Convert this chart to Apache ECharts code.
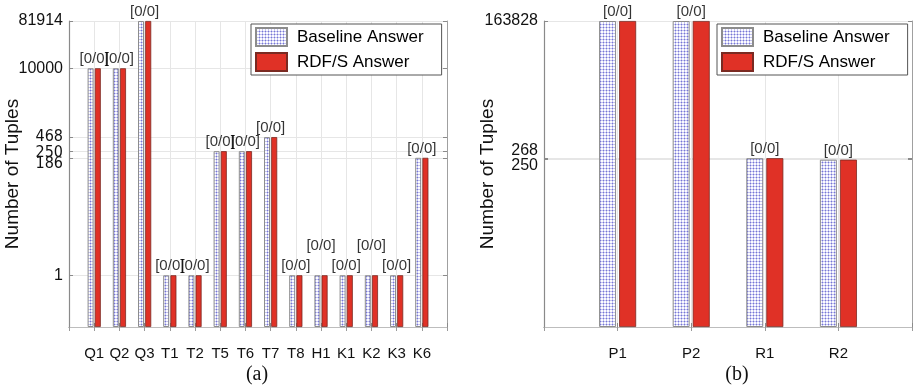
<!DOCTYPE html>
<html>
<head>
<meta charset="utf-8">
<script src="https://cdn.jsdelivr.net/npm/echarts@6/dist/echarts.min.js"></script>
<style>
  html, body { margin: 0; padding: 0; background: #fff; }
  #chart { width: 915px; height: 386px; }
</style>
</head>
<body>
<div id="chart"></div>
<script>
// ---------------- data ----------------
const leftCategories = ['Q1', 'Q2', 'Q3', 'T1', 'T2', 'T5', 'T6', 'T7', 'T8', 'H1', 'K1', 'K2', 'K3', 'K6'];
const leftBaseline   = [10000, 10000, 81914, 1, 1, 250, 250, 468, 1, 1, 1, 1, 1, 186];
const leftRdfs       = [10000, 10000, 81914, 1, 1, 250, 250, 468, 1, 1, 1, 1, 1, 186];
const leftNotes      = ['[0/0]', '[0/0]', '[0/0]', '[0/0]', '[0/0]', '[0/0]', '[0/0]', '[0/0]', '[0/0]', '[0/0]', '[0/0]', '[0/0]', '[0/0]', '[0/0]'];
const leftTicks      = [1, 186, 250, 468, 10000, 81914];

const rightCategories = ['P1', 'P2', 'R1', 'R2'];
const rightBaseline   = [163828, 163828, 268, 250];
const rightRdfs       = [163828, 163828, 268, 250];
const rightNotes      = ['[0/0]', '[0/0]', '[0/0]', '[0/0]'];
const rightTicks      = [250, 268, 163828];

const axisFloor = 0.1;          // bottom of both log axes
const leftTop = 81914;
const rightTop = 163828;

// ---------------- helpers ----------------
const FONT = "'Liberation Sans', Arial, Helvetica, sans-serif";
const NARROW = "'Liberation Sans Narrow', 'DejaVu Sans Condensed', 'Liberation Sans', sans-serif";
const toLog = v => Math.log10(v / axisFloor);
const fromLog = t => Math.round(axisFloor * Math.pow(10, t));

function makePattern() {
  const c = document.createElement('canvas');
  c.width = 3; c.height = 3;
  const g = c.getContext('2d');
  g.fillStyle = '#fbfbff'; g.fillRect(0, 0, 3, 3);
  g.fillStyle = '#c3c3ef'; g.fillRect(0, 0, 3, 1); g.fillRect(0, 0, 1, 3);
  g.fillStyle = '#7676d4'; g.fillRect(0, 0, 1, 1);
  return { image: c, repeat: 'repeat' };
}
const pattern = makePattern();

const padCats = cats => [''].concat(cats, ['']);
const padData = arr => [null].concat(arr.map(toLog), [null]);

function noteData(notes, a, b, raised) {
  const out = [null];
  notes.forEach((n, i) => {
    const item = { value: toLog(Math.max(a[i], b[i])), note: n };
    if (raised.indexOf(i) >= 0) item.label = { offset: [0, -20] };
    out.push(item);
  });
  out.push(null);
  return out;
}

const gridLine = { show: true, lineStyle: { color: '#e6e6e6', width: 1 } };

function xAxes(gridIndex, cats) {
  return [
    {
      type: 'category', gridIndex, data: padCats(cats), boundaryGap: false,
      axisLine: { lineStyle: { color: '#8a8a8a', width: 1.2 } },
      axisTick: { inside: true, length: 4, lineStyle: { color: '#8a8a8a' } },
      axisLabel: { color: '#111', fontSize: 15, fontFamily: FONT, margin: 19, interval: 0 },
      splitLine: gridLine
    },
    {
      type: 'category', gridIndex, position: 'top', data: padCats(cats), boundaryGap: false,
      axisLine: { lineStyle: { color: '#bdbdbd', width: 1 } },
      axisTick: { inside: true, length: 4, lineStyle: { color: '#9a9a9a' } },
      axisLabel: { show: false }, splitLine: { show: false }
    }
  ];
}

// stacked: tick values whose label is drawn together with the label of a nearby tick
function yAxes(gridIndex, ticks, top, shifts, stacked) {
  const tv = ticks.map(toLog);
  const stackedBelow = Object.keys(stacked).map(k => stacked[k]);
  const lv = ticks.filter(t => stackedBelow.indexOf(t) < 0).map(toLog);
  return [
    {
      type: 'value', gridIndex, min: 0, max: toLog(top),
      name: 'Number of Tuples', nameLocation: 'middle', nameGap: 47, nameMoveOverlap: false,
      nameTextStyle: { fontSize: 19, color: '#111', fontFamily: FONT },
      axisLine: { show: true, lineStyle: { color: '#8a8a8a', width: 1.2 } },
      axisTick: { show: true, inside: true, length: 4, customValues: tv, lineStyle: { color: '#8a8a8a' } },
      axisLabel: {
        customValues: lv, color: '#111', fontSize: 16, fontFamily: FONT, margin: 6,
        hideOverlap: false, showMinLabel: true, showMaxLabel: true,
        formatter: v => {
          const n = fromLog(v);
          if (stacked[n] !== undefined) return '{st|' + n + '}\n{st|' + stacked[n] + '}';
          const s = shifts[n];
          return s ? '{' + s + '|' + n + '}' : String(n);
        },
        rich: {
          n:   { fontSize: 16, fontFamily: NARROW, color: '#111' },
          n2:  { fontSize: 16, fontFamily: NARROW, color: '#111', padding: [4, 0, 0, 0] },
          dn:  { fontSize: 16, fontFamily: NARROW, color: '#111', padding: [12, 0, 0, 0] },
          st:  { fontSize: 16, fontFamily: FONT, color: '#111', lineHeight: 15 }
        }
      },
      splitLine: gridLine
    },
    {
      type: 'value', gridIndex, position: 'right', min: 0, max: toLog(top),
      axisLine: { show: true, lineStyle: { color: '#a0a0a0', width: 1 } },
      axisTick: { show: true, inside: true, length: 4, customValues: tv, lineStyle: { color: '#8a8a8a' } },
      axisLabel: { show: false }, splitLine: { show: false }
    }
  ];
}

function barSeries(name, xi, yi, data, width, gap, style) {
  return {
    name, type: 'bar', xAxisIndex: xi, yAxisIndex: yi, data,
    barWidth: width, barGap: gap, itemStyle: style, z: 3
  };
}

const baselineStyle = { color: pattern, borderColor: '#8c8c8c', borderWidth: 1 };
const rdfsStyle = { color: '#e03126', borderColor: '#7a2a22', borderWidth: 0.8 };

function noteSeries(xi, yi, data) {
  return {
    type: 'scatter', xAxisIndex: xi, yAxisIndex: yi, data, symbolSize: 1,
    itemStyle: { color: 'transparent' }, silent: true, z: 5,
    label: {
      show: true, position: 'top', distance: 1, color: '#000', fontSize: 15, fontFamily: FONT,
      formatter: p => p.data.note
    }
  };
}

function legend(left) {
  return {
    orient: 'vertical', left, top: 24, data: ['Baseline Answer', 'RDF/S Answer'],
    icon: 'rect', itemWidth: 31, itemHeight: 18, itemGap: 5,
    padding: [3, 18, 3, 4], borderColor: '#555', borderWidth: 1, backgroundColor: '#fff',
    textStyle: { fontSize: 17, color: '#000', fontFamily: FONT, padding: [0, 0, 0, 5] },
    selectedMode: false
  };
}

const option = {
  animation: false,
  backgroundColor: '#fff',
  textStyle: { fontFamily: FONT },
  grid: [
    { left: 69, top: 21, width: 378, height: 306 },
    { left: 544, top: 21, width: 370, height: 306 }
  ],
  legend: [legend(251), legend(717)],
  xAxis: xAxes(0, leftCategories).concat(xAxes(1, rightCategories)),
  yAxis: yAxes(0, leftTicks, leftTop, { 468: 'n', 250: 'n2', 186: 'dn' }, {})
    .concat(yAxes(1, rightTicks, rightTop, {}, { 268: 250 })),
  series: [
    barSeries('Baseline Answer', 0, 0, padData(leftBaseline), 6, '20%', baselineStyle),
    barSeries('RDF/S Answer', 0, 0, padData(leftRdfs), 6, '20%', rdfsStyle),
    noteSeries(0, 0, noteData(leftNotes, leftBaseline, leftRdfs, [9, 11])),
    barSeries('Baseline Answer', 2, 2, padData(rightBaseline), 17, '18%', baselineStyle),
    barSeries('RDF/S Answer', 2, 2, padData(rightRdfs), 17, '18%', rdfsStyle),
    noteSeries(2, 2, noteData(rightNotes, rightBaseline, rightRdfs, []))
  ],
  graphic: [
    { type: 'text', x: 257, y: 375, style: { text: '(a)', fontSize: 20, fontFamily: "'Liberation Serif', 'DejaVu Serif', serif", fill: '#111', textAlign: 'center', textVerticalAlign: 'middle' } },
    { type: 'text', x: 737, y: 375, style: { text: '(b)', fontSize: 20, fontFamily: "'Liberation Serif', 'DejaVu Serif', serif", fill: '#111', textAlign: 'center', textVerticalAlign: 'middle' } }
  ]
};

const chart = echarts.init(document.getElementById('chart'), null, { renderer: 'canvas' });
chart.setOption(option);
</script>
</body>
</html>
